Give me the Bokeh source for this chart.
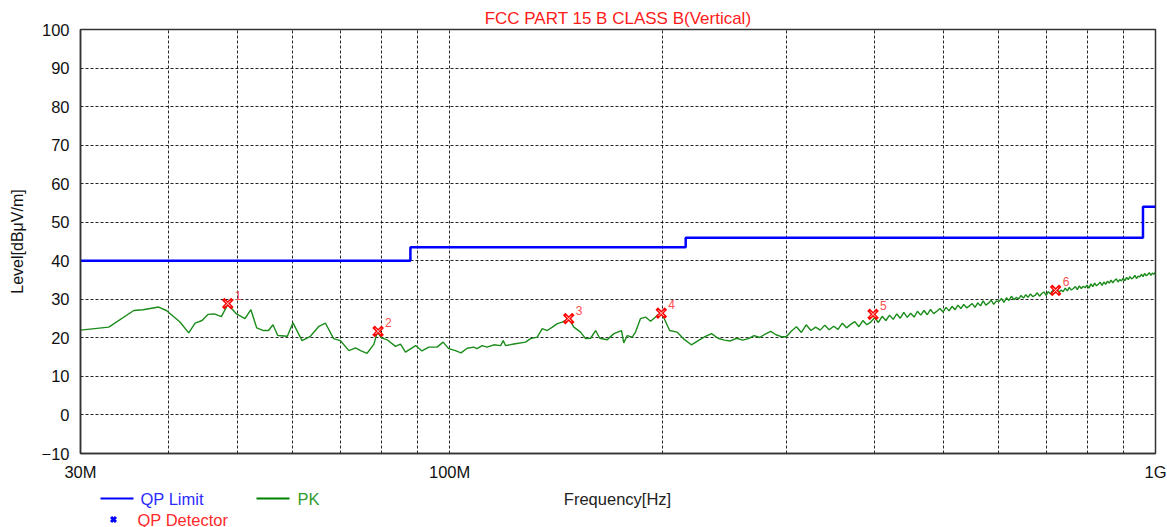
import numpy as np
from bokeh.plotting import figure
from bokeh.models import Range1d, FixedTicker
from bokeh.layouts import column
from bokeh.embed import file_html
from bokeh.resources import INLINE
from bokeh.core.properties import value

FONT = "Liberation Sans"

# ---------------- data ----------------
title_text = "FCC PART 15 B CLASS B(Vertical)"
x_label = "Frequency[Hz]"
y_label = "Level[dB\u03bcV/m]"

# QP limit (MHz, dBuV/m) - step after
limit_freq = [30, 88, 216, 960, 1000]
limit_level = [40.0, 43.5, 46.0, 54.0, 54.0]

# PK trace, low (coarse) part
pk_low_freq = [
    30.0, 32.9, 35.7, 36.8, 38.7, 39.7, 41.5, 42.7, 43.6, 44.6,
    45.5, 46.4, 47.5, 48.5, 49.9, 51.3, 52.3, 53.3, 54.5, 55.4,
    56.2, 57.1, 58.9, 60.0, 61.8, 63.5, 65.3, 66.7, 68.5, 70.0,
    72.0, 73.6, 74.8, 76.4, 78.1, 79.0, 80.1, 81.6, 83.8, 85.2,
    86.6, 89.5, 91.4, 93.4, 96.0, 97.9, 99.7, 101.9, 103.8, 105.9,
    108.2, 109.4, 111.2, 113.0, 115.5, 118.1, 119.1, 120.0, 123.3, 128.1,
    130.2, 133.1, 135.3, 137.5, 139.8, 142.1, 144.4, 147.5, 150.0, 153.3,
    155.8, 158.4, 161.0, 163.2, 167.2, 170.9, 175.2, 176.5, 178.5, 181.4,
    183.4, 186.4, 189.5, 192.6, 196.9,
]
pk_low_level = [
    22.0, 22.8, 27.1, 27.3, 28.0, 27.1, 24.1, 21.3, 23.8, 24.5,
    26.1, 26.2, 25.5, 28.7, 26.2, 25.0, 27.3, 22.6, 21.9, 21.9,
    23.4, 20.6, 20.4, 23.9, 19.3, 20.4, 23.0, 23.8, 19.8, 19.3,
    16.7, 17.4, 16.7, 16.0, 18.3, 21.5, 20.0, 19.5, 17.8, 18.4,
    16.3, 18.0, 16.6, 17.6, 17.6, 18.9, 17.2, 16.7, 16.1, 17.3,
    17.6, 17.2, 18.0, 17.6, 18.2, 18.0, 19.3, 18.0, 18.4, 18.9,
    19.8, 20.2, 22.4, 21.9, 22.8, 23.7, 24.1, 25.0, 22.8, 21.5,
    19.8, 19.9, 21.9, 19.9, 19.5, 21.1, 21.9, 18.7, 20.6, 20.2,
    21.5, 25.0, 25.4, 24.3, 25.8,
]

# PK trace, sweep part 200 MHz .. 1000 MHz, 5 MHz step
pk_sweep_start, pk_sweep_stop, pk_sweep_step = 200, 1000, 5
pk_high_level = [
    26.2, 21.9, 21.5, 19.6, 18.2, 19.3, 20.3, 21.1, 19.9, 19.4,
    19.2, 19.9, 19.4, 19.8, 20.6, 20.1, 21.0, 21.7, 20.8, 20.3,
    20.3, 21.8, 22.9, 21.4, 23.4, 21.9, 22.8, 22.0, 23.3, 22.1,
    23.0, 22.2, 23.8, 22.6, 23.5, 24.2, 22.9, 24.5, 23.4, 24.1,
    25.2, 24.0, 25.6, 24.5, 25.9, 24.8, 26.2, 25.1, 26.6, 25.3,
    26.4, 25.4, 26.9, 25.9, 27.1, 26.0, 27.4, 26.3, 26.9, 27.6,
    26.7, 27.9, 27.0, 28.2, 27.3, 28.5, 27.6, 28.7, 27.8, 28.3,
    28.9, 27.9, 29.1, 28.3, 29.6, 28.5, 29.0, 29.8, 28.7, 29.6,
    29.4, 30.2, 29.2, 30.4, 29.7, 30.8, 29.9, 30.5, 30.1, 31.0,
    30.3, 31.2, 30.5, 31.4, 30.7, 31.0, 31.7, 30.8, 31.5, 31.9,
    31.0, 32.0, 31.4, 32.3, 31.6, 32.6, 31.8, 32.4, 32.0, 32.9,
    32.2, 33.1, 32.4, 32.8, 33.3, 32.5, 33.5, 32.8, 33.4, 33.0,
    33.7, 32.9, 34.0, 33.3, 34.2, 33.5, 33.9, 34.4, 33.6, 34.5,
    33.9, 34.7, 34.2, 35.0, 34.3, 34.9, 35.3, 34.5, 35.1, 34.8,
    35.5, 34.8, 35.7, 35.1, 35.9, 35.3, 35.6, 36.2, 35.4, 36.0,
    35.8, 36.5, 35.9, 36.7, 36.1, 36.4, 36.9, 36.2, 36.8, 36.5,
    37.1,
]

# QP detector points
det_freq = [48.5, 79.2, 147.5, 199.5, 398.0, 722.0]
det_level = [28.9, 21.7, 25.0, 26.4, 26.1, 32.3]
det_label = ["1", "2", "3", "4", "5", "6"]

# axis ticks
x_ticks = [30, 40, 50, 60, 70, 80, 90, 100, 200, 300, 400, 500, 600, 700, 800, 900, 1000]
x_tick_labels = {30: "30M", 100: "100M", 1000: "1G"}
y_ticks = [-10, 0, 10, 20, 30, 40, 50, 60, 70, 80, 90, 100]

legend_names = ["QP Limit", "PK", "QP Detector"]

# ---------------- build ----------------
pk_high_freq = list(np.arange(pk_sweep_start, pk_sweep_stop + 1, pk_sweep_step))
pk_freq = pk_low_freq + pk_high_freq
pk_level = pk_low_level + pk_high_level

W = 1167
BL, BR = 80, 12
PH = 489
p = figure(width=W, height=PH, x_axis_type="log",
           x_range=Range1d(30, 1000), y_range=Range1d(-10, 100),
           output_backend="svg", toolbar_location=None,
           min_border_left=BL, min_border_right=BR,
           min_border_top=29, min_border_bottom=36)

p.title.text = title_text
p.title.align = "center"
p.title.text_color = "#ff1a1a"
p.title.text_font = FONT
p.title.text_font_size = "17px"
p.title.text_font_style = "normal"
p.title.standoff = 3

p.background_fill_color = "white"
p.border_fill_color = "white"
p.outline_line_color = "#333333"
p.outline_line_width = 1.5

# axes
p.xaxis.ticker = FixedTicker(ticks=x_ticks)
p.xaxis.major_label_overrides = {t: x_tick_labels.get(t, "") for t in x_ticks}
p.yaxis.ticker = FixedTicker(ticks=y_ticks)
for ax in (p.xaxis, p.yaxis):
    ax.major_tick_line_color = None
    ax.minor_tick_line_color = None
    ax.axis_line_color = "#333333"
    ax.axis_line_width = 1.5
    ax.major_label_text_font = FONT
    ax.major_label_text_font_size = "16.5px"
    ax.major_label_text_color = "#111111"
p.xaxis.major_label_standoff = 3
p.yaxis.major_label_standoff = 5
p.yaxis.axis_label = y_label
p.yaxis.axis_label_text_font = FONT
p.yaxis.axis_label_text_font_size = "16px"
p.yaxis.axis_label_text_font_style = "normal"
p.yaxis.axis_label_text_color = "#111111"
p.yaxis.axis_label_standoff = 13

for g in (p.xgrid, p.ygrid):
    g.grid_line_color = "black"
    g.grid_line_alpha = 0.85
    g.grid_line_dash = "3 2"
    g.grid_line_width = 1

# glyphs
p.step(limit_freq, limit_level, mode="after", line_color="#0000ff", line_width=2.5)
p.line(pk_freq, pk_level, line_color="#1a8c1a", line_width=1.4)
p.scatter(det_freq, det_level, marker="x", size=13, line_color="#ff0000", line_width=3.5)
p.scatter(det_freq, det_level, marker="x", size=8, line_color="#ffd0d0", line_width=1)
p.text(det_freq, det_level, text=det_label, x_offset=7, y_offset=-4,
       text_font=value(FONT), text_font_size="12px", text_color="#ff4d4d",
       text_baseline="bottom", text_align="left")

# legend strip (x in page pixels, y in strip pixels)
LH = 527 - PH
lf = figure(width=W, height=LH, x_range=Range1d(BL, W - BR), y_range=Range1d(LH, 0),
            output_backend="svg", toolbar_location=None,
            x_axis_location=None, y_axis_location=None,
            min_border_left=BL, min_border_right=BR, min_border_top=0, min_border_bottom=0,
            outline_line_color=None)
lf.grid.visible = False
row1, row2 = 9, 30
LFS = "16.5px"
lf.line([100, 133], [row1, row1], line_color="#0000ff", line_width=2)
lf.text([140], [row1], text=[legend_names[0]], text_font=value(FONT), text_font_size=LFS,
        text_color="#2b2bff", text_baseline="middle")
lf.line([256, 289], [row1, row1], line_color="#008000", line_width=2)
lf.text([297], [row1], text=[legend_names[1]], text_font=value(FONT), text_font_size=LFS,
        text_color="#2e9a2e", text_baseline="middle")
lf.text([617], [row1], text=[x_label], text_font=value(FONT), text_font_size=LFS,
        text_color="#222222", text_baseline="middle", text_align="center")
lf.scatter([113], [row2], marker="x", size=7, line_color="#0000ff", line_width=3)
lf.text([137], [row2], text=[legend_names[2]], text_font=value(FONT), text_font_size=LFS,
        text_color="#ff2a2a", text_baseline="middle")

layout = column(p, lf, spacing=0)
open("out.html", "w").write(file_html(layout, INLINE))
